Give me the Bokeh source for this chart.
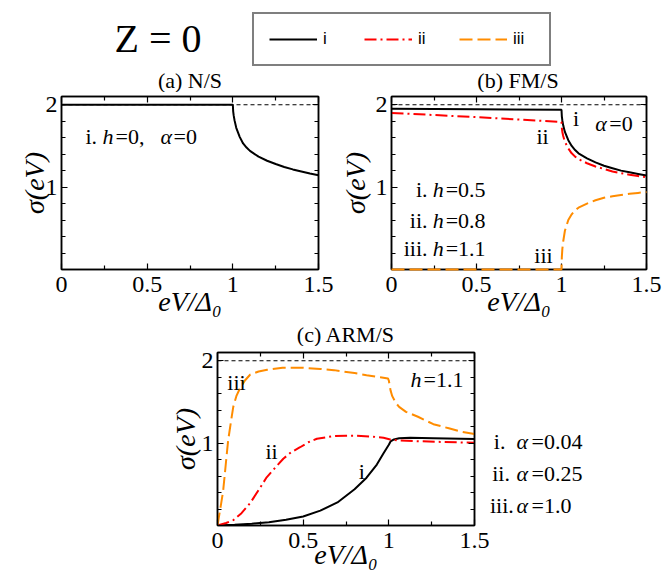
from bokeh.plotting import figure
from bokeh.models import Label, Legend, LegendItem, LinearAxis, FixedTicker, Range1d
from bokeh.layouts import column, row
from bokeh.embed import file_html
from bokeh.resources import INLINE

SERIF = "Liberation Serif"
SANS = "Liberation Sans"
RED = "#ff0000"
ORANGE = "#ff8c00"

# ---------------- data ----------------
X_TICKS = [0, 0.5, 1, 1.5]
X_MINOR = [0.25, 0.75, 1.25]
X_LABELS = {0: "0", 0.5: "0.5", 1: "1", 1.5: "1.5"}
Y_TICKS = [1, 2]
Y_MINOR = [0.2, 0.4, 0.6, 0.8, 1.2, 1.4, 1.6, 1.8]
Y_LABELS = {1: "1", 2: "2"}

REF_X = [0, 1.5]
REF_Y = [2, 2]

# (a) N/S, h=0, alpha=0
a_x = [0, 0.5, 1.0, 1.002, 1.005, 1.01, 1.02, 1.04, 1.06, 1.08, 1.10, 1.15, 1.20, 1.25, 1.30, 1.35, 1.40, 1.45, 1.50]
a_y = [2.0, 2.0, 2.0, 1.92, 1.87, 1.81, 1.72, 1.61, 1.53, 1.48, 1.44, 1.37, 1.32, 1.28, 1.245, 1.215, 1.19, 1.165, 1.145]

# (b) FM/S, alpha=0
b_x = [0, 0.5, 1.0, 1.002, 1.005, 1.01, 1.02, 1.04, 1.06, 1.08, 1.10, 1.15, 1.20, 1.25, 1.30, 1.35, 1.40, 1.45, 1.50]
b1_y = [1.95, 1.945, 1.94, 1.86, 1.81, 1.75, 1.67, 1.57, 1.50, 1.45, 1.41, 1.35, 1.30, 1.26, 1.23, 1.20, 1.18, 1.16, 1.14]
b2_y = [1.90, 1.85, 1.79, 1.72, 1.67, 1.62, 1.55, 1.47, 1.41, 1.37, 1.34, 1.29, 1.25, 1.22, 1.19, 1.17, 1.15, 1.135, 1.12]
b3_y = [0.0, 0.0, 0.0, 0.15, 0.25, 0.34, 0.47, 0.60, 0.67, 0.72, 0.75, 0.80, 0.84, 0.87, 0.89, 0.905, 0.92, 0.93, 0.94]

# (c) ARM/S, h=1.1
c1_x = [0, 0.1, 0.2, 0.3, 0.4, 0.5, 0.6, 0.7, 0.8, 0.87, 0.93, 0.97, 1.0, 1.01, 1.03, 1.06, 1.125, 1.26, 1.5]
c1_y = [0, 0.008, 0.022, 0.04, 0.07, 0.11, 0.18, 0.28, 0.44, 0.58, 0.74, 0.88, 0.98, 1.02, 1.045, 1.058, 1.065, 1.06, 1.05]
c2_x = [0, 0.05, 0.092, 0.14, 0.19, 0.24, 0.287, 0.34, 0.384, 0.43, 0.482, 0.53, 0.58, 0.677, 0.75, 0.813, 0.9, 0.969, 1.008, 1.05, 1.164, 1.3, 1.5]
c2_y = [0, 0.03, 0.065, 0.15, 0.27, 0.43, 0.585, 0.71, 0.81, 0.89, 0.95, 1.01, 1.053, 1.085, 1.09, 1.09, 1.08, 1.065, 1.045, 1.035, 1.024, 1.015, 1.004]
c3_x = [0, 0.02, 0.033, 0.05, 0.062, 0.08, 0.092, 0.11, 0.13, 0.16, 0.19, 0.24, 0.29, 0.38, 0.5, 0.6, 0.68, 0.8, 0.87, 0.95, 0.995,
        1.0, 1.005, 1.01, 1.02, 1.04, 1.06, 1.10, 1.17, 1.26, 1.35, 1.42, 1.5]
c3_y = [0, 0.25, 0.42, 0.78, 1.03, 1.28, 1.44, 1.57, 1.66, 1.76, 1.83, 1.87, 1.89, 1.915, 1.915, 1.90, 1.886, 1.85, 1.825, 1.80, 1.785,
        1.76, 1.70, 1.64, 1.57, 1.49, 1.44, 1.38, 1.32, 1.23, 1.18, 1.14, 1.11]

LEGEND_LABELS = ["i", "ii", "iii"]
TITLES = ["(a) N/S", "(b) FM/S", "(c) ARM/S"]

LIFT = 0.085  # text baseline correction in sigma units (about 7 px)


# ---------------- helpers ----------------
def style_axis(ax, ticks, minor, labels, show_labels):
    ax.ticker = FixedTicker(ticks=ticks, minor_ticks=minor)
    ax.major_tick_in = 6
    ax.major_tick_out = 0
    ax.minor_tick_in = 4
    ax.minor_tick_out = 0
    ax.major_tick_line_color = "black"
    ax.minor_tick_line_color = "black"
    ax.major_tick_line_width = 1.2
    ax.minor_tick_line_width = 1.2
    ax.axis_line_color = "black"
    ax.axis_line_width = 1.5
    ax.major_label_text_font = SERIF
    ax.major_label_text_color = "black"
    if show_labels:
        ax.major_label_overrides = labels
        ax.major_label_text_font_size = "24px"
    else:
        ax.major_label_overrides = {t: "" for t in ticks}
        ax.major_label_text_font_size = "1px"
        ax.major_label_standoff = 0


def txt(p, x, y, s, size="22px", italic=False, dx=0, align="left"):
    p.add_layout(Label(x=x, y=y, text=s, x_offset=dx, text_font=SERIF, text_font_size=size,
                       text_font_style="italic" if italic else "normal", text_align=align,
                       text_baseline="alphabetic", text_color="black"))


def blank(width, height, xr, yr, bt=0, bb=0):
    f = figure(width=width, height=height, x_range=xr, y_range=yr, title=None,
               output_backend="svg", toolbar_location=None, tools="", frame_align=False,
               x_axis_location=None, y_axis_location=None,
               min_border_left=0, min_border_right=0, min_border_top=bt, min_border_bottom=bb)
    f.xgrid.visible = False
    f.ygrid.visible = False
    f.outline_line_color = None
    return f


def make_panel(width, height, bl, br, bt, bb, xstand, ystand):
    p = figure(width=width, height=height, x_range=Range1d(0, 1.5), y_range=Range1d(0, 2.1), title=None,
               output_backend="svg", toolbar_location=None, tools="", frame_align=False,
               min_border_left=bl, min_border_right=br, min_border_top=bt, min_border_bottom=bb)
    p.xgrid.visible = False
    p.ygrid.visible = False
    p.outline_line_color = "black"
    p.outline_line_width = 1.5
    p.background_fill_color = "white"
    p.border_fill_color = "white"
    xa = p.xaxis[0]
    ya = p.yaxis[0]
    style_axis(xa, X_TICKS, X_MINOR, X_LABELS, True)
    style_axis(ya, Y_TICKS, Y_MINOR, Y_LABELS, True)
    xa.major_label_standoff = 7
    ya.major_label_standoff = 4
    xa.axis_label = "eV/Δ₀"
    xa.axis_label_text_font = SERIF
    xa.axis_label_text_font_size = "28px"
    xa.axis_label_text_font_style = "italic"
    xa.axis_label_text_color = "black"
    xa.axis_label_standoff = xstand
    ya.axis_label = "σ(eV)"
    ya.axis_label_text_font = SERIF
    ya.axis_label_text_font_size = "28px"
    ya.axis_label_text_font_style = "italic"
    ya.axis_label_text_color = "black"
    ya.axis_label_standoff = ystand
    top = LinearAxis()
    style_axis(top, X_TICKS, X_MINOR, {}, False)
    p.add_layout(top, "above")
    right = LinearAxis()
    style_axis(right, Y_TICKS, Y_MINOR, {}, False)
    p.add_layout(right, "right")
    p.line(REF_X, REF_Y, color="black", line_width=1.2, line_dash="4 3")
    return p


SOLID = dict(color="black", line_width=2)
DASHDOT = dict(color=RED, line_width=2, line_dash="12 4 2 4")
DASHED = dict(color=ORANGE, line_width=2, line_dash="13 5")

# ---------------- header (Z = 0, key, titles of a and b) ----------------
HX = 10  # header x range starts past the series' x values, so the key's renderers stay off-canvas
hdr = blank(664, 92, Range1d(HX, HX + 664), Range1d(0, 92))
r1 = hdr.line(a_x, a_y, **SOLID)
r2 = hdr.line(b_x, b2_y, **DASHDOT)
r3 = hdr.line(b_x, b3_y, **DASHED)
leg = Legend(items=[LegendItem(label=LEGEND_LABELS[0], renderers=[r1]),
                    LegendItem(label=LEGEND_LABELS[1], renderers=[r2]),
                    LegendItem(label=LEGEND_LABELS[2], renderers=[r3])],
             orientation="horizontal", location=(252, 26),
             border_line_color="black", border_line_width=2,
             background_fill_color="white", background_fill_alpha=1,
             label_text_font=SANS, label_text_font_size="17px", label_text_color="black",
             glyph_width=48, glyph_height=20, label_height=20, label_width=21,
             label_standoff=6, spacing=20, padding=15, margin=0)
hdr.add_layout(leg)
hdr.add_layout(Label(x=HX + 114, y=54, text="Z = 0", text_font=SERIF, text_font_size="40px",
                     text_baseline="alphabetic", text_color="black"))
txt(hdr, HX + 189.5, 12, TITLES[0], size="22px", align="center")
txt(hdr, HX + 517.5, 12, TITLES[1], size="22px", align="center")

# ---------------- panel (a) ----------------
pa = make_panel(336, 228, 61, 18, 4, 51, -9, -7)
pa.line(a_x, a_y, **SOLID)
ya_ = 1.53 + LIFT
txt(pa, 0.14, ya_, "i.")
txt(pa, 0.14, ya_, "h", italic=True, dx=17)
txt(pa, 0.14, ya_, "=0,", dx=30)
txt(pa, 0.14, ya_, "α", italic=True, dx=75)
txt(pa, 0.14, ya_, "=0", dx=88)

# ---------------- panel (b) ----------------
pb = make_panel(328, 228, 54, 18, 4, 51, -9, 2)
pb.line(b_x, b1_y, **SOLID)
pb.line(b_x, b2_y, **DASHDOT)
pb.line(b_x, b3_y, level="overlay", **DASHED)
txt(pb, 1.068, 1.75 + LIFT, "i")
txt(pb, 1.199, 1.69 + LIFT, "α", italic=True)
txt(pb, 1.199, 1.69 + LIFT, "=0", dx=14)
txt(pb, 0.853, 1.53 + LIFT, "ii")
txt(pb, 0.84, 0.09 + LIFT, "iii")
for yb, pre, val in [(0.89, "i.", "=0.5"), (0.515, "ii.", "=0.8"), (0.17, "iii.", "=1.1")]:
    txt(pb, 0.212, yb + LIFT, pre, align="right")
    txt(pb, 0.242, yb + LIFT, "h", italic=True)
    txt(pb, 0.242, yb + LIFT, val, dx=13)

# ---------------- title strip of (c) ----------------
strip = blank(664, 26, Range1d(0, 664), Range1d(0, 26))
txt(strip, 345.5, 12.5, TITLES[2], size="22px", align="center")

# ---------------- panel (c) ----------------
pc = make_panel(489, 228, 217, 15, 6, 49, -12, -2)
pc.line(c1_x, c1_y, **SOLID)
pc.line(c2_x, c2_y, **DASHDOT)
pc.line(c3_x, c3_y, **DASHED)
txt(pc, 0.057, 1.65 + LIFT, "iii")
txt(pc, 1.127, 1.69 + LIFT, "h", italic=True)
txt(pc, 1.127, 1.69 + LIFT, "=1.1", dx=13)
txt(pc, 0.28, 0.81 + LIFT, "ii")
txt(pc, 0.825, 0.566 + LIFT, "i")

# side area of (c): same sigma scale, no axes, holds the alpha key
side = blank(175, 228, Range1d(0, 175), Range1d(0, 2.1), bt=6, bb=49)
for yb, x0, pre, val in [(0.932, 4.3, "i.", "=0.04"), (0.545, 2.7, "ii.", "=0.25"), (0.159, 0.5, "iii.", "=1.0")]:
    txt(side, x0, yb + LIFT, pre)
    txt(side, 27, yb + LIFT, "α", italic=True)
    txt(side, 27, yb + LIFT, val, dx=15)

layout = column(hdr, row(pa, pb), strip, row(pc, side))
open("out.html", "w").write(file_html(layout, INLINE))
